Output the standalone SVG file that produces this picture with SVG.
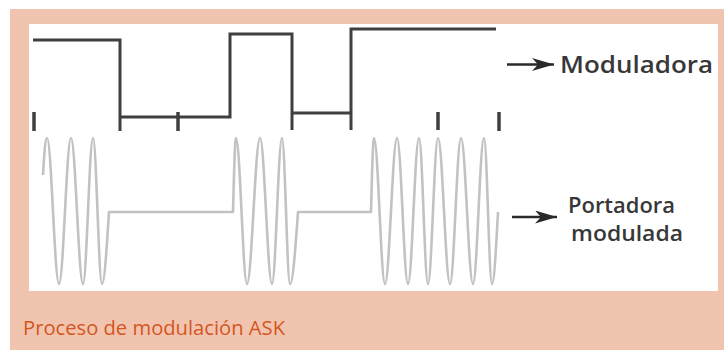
<svg xmlns="http://www.w3.org/2000/svg" width="724" height="350" viewBox="0 0 724 350">
<style>
.sq{fill:none;stroke:#3f3f3f;stroke-width:3;stroke-linejoin:miter}
.tick{stroke:#3f3f3f;stroke-width:3.5}
.car{fill:none;stroke:#c2c2c2;stroke-width:2.6;stroke-linejoin:round}
.arr{stroke:#2a2a2a;stroke-width:2.6;marker-end:url(#ah)}
.lbl{font-family:"Open Sans","Liberation Sans",sans-serif;font-weight:600;font-size:23px;fill:#383838}
.lbl2{font-family:"Open Sans","Liberation Sans",sans-serif;font-weight:600;font-size:21px;fill:#383838}
.cap{font-family:"Open Sans","Liberation Sans",sans-serif;font-size:19.5px;fill:#d4561e}
</style>
<defs>
<marker id="ah" viewBox="0 0 22 13" refX="22" refY="6.5" markerWidth="22" markerHeight="13" markerUnits="userSpaceOnUse" orient="auto">
<path d="M0,0 L22,6.5 L0,13 L6,6.5 Z" fill="#2a2a2a"/>
</marker>
</defs>
<rect x="0" y="0" width="724" height="350" fill="#ffffff"/>
<rect x="10" y="9" width="714" height="341" fill="#f1c4b0"/>
<rect x="29" y="24" width="689" height="267" fill="#ffffff"/>

<g id="moduladora-signal">
<path class="sq" d="M33,40 H120 V131 M120,117 H230 V34 H292 V130 M292,113 H351 V130 M351,113 V29 H496"/>
<line class="tick" x1="34" y1="112" x2="34" y2="131"/>
<line class="tick" x1="178" y1="112" x2="178" y2="131"/>
<line class="tick" x1="438" y1="112" x2="438" y2="130"/>
<line class="tick" x1="499" y1="112" x2="499" y2="131"/>
</g>

<g id="portadora-signal">
<path class="car" d="M43,175 C44.5,150 45.5,138 47,138 C51.4,138 54.6,284 59,284 C63.4,284 66.6,138 71,138 C75.4,138 78.6,284 83,284 C86.6,284 89.4,138 93,138 C96.3,138 98.7,284 102,284 C104.5,284 106.7,248 109,212 L233,212 C234,175 234.9,138 236,138 C240,138 243,284 247,284 C251.7,284 255.3,138 260,138 C264.4,138 267.6,284 272,284 C275.6,284 278.4,138 282,138 C284.9,138 287.1,284 290,284 C292.9,284 295.4,249 298,212 L371,212 C372,174 372.9,138 374,138 C378,138 381,284 385,284 C389.4,284 392.6,138 397,138 C401,138 404,284 408,284 C412,284 415,138 419,138 C422.3,138 424.7,284 428,284 C431.6,284 434.4,138 438,138 C442.4,138 445.6,284 450,284 C454,284 457,138 461,138 C465.4,138 468.6,284 473,284 C477,284 480,138 484,138 C486.9,138 489.1,284 492,284 C494.2,284 496,249 498,212"/>
</g>

<g id="connectors">
<line class="arr" x1="507" y1="64.5" x2="554" y2="64.5"/>
<line class="arr" x1="512" y1="217" x2="557" y2="217"/>
</g>

<g id="label-moduladora">
<text class="lbl" x="560" y="73" textLength="153" lengthAdjust="spacingAndGlyphs">Moduladora</text>
</g>
<g id="label-portadora">
<text class="lbl2" x="568" y="213" textLength="107" lengthAdjust="spacingAndGlyphs">Portadora</text>
<text class="lbl2" x="571" y="241" textLength="112" lengthAdjust="spacingAndGlyphs">modulada</text>
</g>
<g id="caption">
<text class="cap" x="23" y="335" textLength="262" lengthAdjust="spacingAndGlyphs">Proceso de modulación ASK</text>
</g>
</svg>
